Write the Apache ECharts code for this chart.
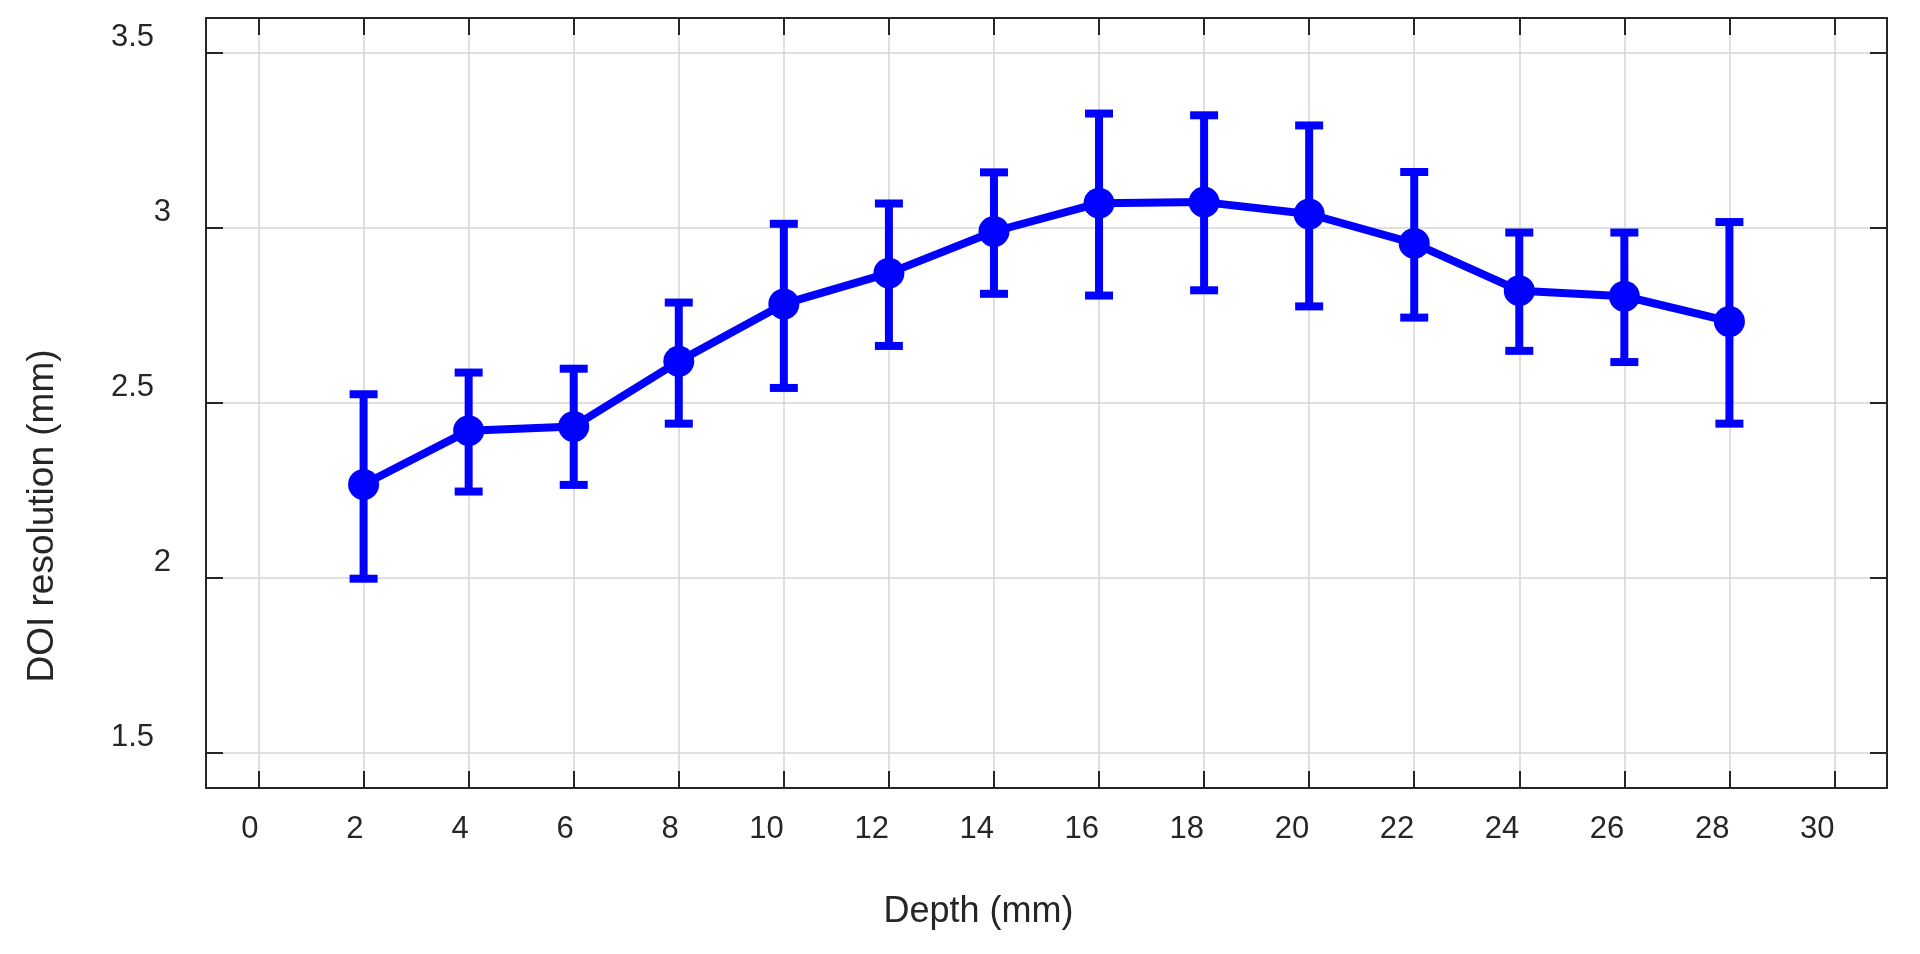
<!DOCTYPE html>
<html>
<head>
<meta charset="utf-8">
<script src="https://cdn.jsdelivr.net/npm/echarts@6/dist/echarts.min.js"></script>
<style>html,body{margin:0;padding:0;background:#fff}#c{width:1920px;height:954px}</style>
</head>
<body>
<div id="c"></div>
<script>
const depths = [2, 4, 6, 8, 10, 12, 14, 16, 18, 20, 22, 24, 26, 28];
const meanRes = [2.267, 2.421, 2.433, 2.619, 2.783, 2.871, 2.990, 3.071, 3.074, 3.040, 2.956, 2.821, 2.805, 2.733];
const lowerRes = [1.998, 2.247, 2.266, 2.441, 2.543, 2.663, 2.812, 2.807, 2.822, 2.776, 2.744, 2.649, 2.617, 2.441];
const upperRes = [2.525, 2.587, 2.598, 2.787, 3.012, 3.070, 3.159, 3.327, 3.322, 3.293, 3.160, 2.987, 2.987, 3.017];
const xTicks = [0, 2, 4, 6, 8, 10, 12, 14, 16, 18, 20, 22, 24, 26, 28, 30];
const yTicks = [1.5, 2, 2.5, 3, 3.5];

const FONT = '"Liberation Sans", Arial, Helvetica, sans-serif';
const DARK = '#262626';
const BLUE = '#0000ff';

const lineData = depths.map((d, i) => [d, meanRes[i]]);
const errData = depths.map((d, i) => [d, lowerRes[i], upperRes[i]]);

const axisLineCommon = {show: true, onZero: false, lineStyle: {color: DARK, width: 2}};
const tickCommon = (vals) => ({show: true, inside: true, length: 17, customValues: vals, lineStyle: {color: DARK, width: 2}});

const chart = echarts.init(document.getElementById('c'));
chart.setOption({
  animation: false,
  backgroundColor: '#ffffff',
  grid: {left: 206, top: 18, width: 1681, height: 770, containLabel: false},
  xAxis: [{
    type: 'value', min: -1, max: 31, position: 'bottom',
    axisLine: axisLineCommon,
    axisTick: tickCommon(xTicks),
    axisLabel: {customValues: xTicks, margin: 26, color: DARK, fontSize: 31, fontFamily: FONT, align: 'right'},
    splitLine: {show: true, lineStyle: {color: '#d6d6d6', width: 1.5}},
    name: 'Depth (mm)', nameLocation: 'middle', nameGap: 106,
    nameTextStyle: {color: DARK, fontSize: 36, fontFamily: FONT, padding: [0, 136, 0, 0]}
  }, {
    type: 'value', min: -1, max: 31, position: 'top',
    axisLine: axisLineCommon,
    axisTick: tickCommon(xTicks),
    axisLabel: {show: false},
    splitLine: {show: false}
  }],
  yAxis: [{
    type: 'value', min: 1.4, max: 3.6, position: 'left',
    axisLine: axisLineCommon,
    axisTick: tickCommon(yTicks),
    axisLabel: {
      customValues: yTicks, margin: 35, color: DARK, fontSize: 31, fontFamily: FONT, verticalAlign: 'bottom',
      formatter: v => Number.isInteger(v) ? String(v) : '{d|' + v + '}',
      rich: {d: {padding: [0, 17, 0, 0], color: DARK, fontSize: 31, fontFamily: FONT, verticalAlign: 'bottom'}}
    },
    splitLine: {show: true, lineStyle: {color: '#d6d6d6', width: 1.5}},
    name: 'DOI resolution (mm)', nameLocation: 'middle', nameGap: 145,
    nameTextStyle: {color: DARK, fontSize: 37, fontFamily: FONT, padding: [0, 226, 0, 0]}
  }, {
    type: 'value', min: 1.4, max: 3.6, position: 'right',
    axisLine: axisLineCommon,
    axisTick: tickCommon(yTicks),
    axisLabel: {show: false},
    splitLine: {show: false}
  }],
  series: [{
    type: 'custom',
    name: 'error',
    xAxisIndex: 0, yAxisIndex: 0,
    data: errData,
    z: 3,
    renderItem: function (params, api) {
      const x = api.value(0), lo = api.value(1), hi = api.value(2);
      const pLo = api.coord([x, lo]);
      const pHi = api.coord([x, hi]);
      const hw = 14;
      const style = {stroke: BLUE, lineWidth: 8, fill: null};
      return {
        type: 'group',
        children: [
          {type: 'line', shape: {x1: pLo[0], y1: pLo[1], x2: pHi[0], y2: pHi[1]}, style: style},
          {type: 'line', shape: {x1: pLo[0] - hw, y1: pLo[1], x2: pLo[0] + hw, y2: pLo[1]}, style: style},
          {type: 'line', shape: {x1: pHi[0] - hw, y1: pHi[1], x2: pHi[0] + hw, y2: pHi[1]}, style: style}
        ]
      };
    }
  }, {
    type: 'line',
    name: 'mean',
    xAxisIndex: 0, yAxisIndex: 0,
    data: lineData,
    z: 4,
    symbol: 'circle', symbolSize: 31,
    itemStyle: {color: BLUE},
    lineStyle: {color: BLUE, width: 8}
  }]
});
</script>
</body>
</html>
